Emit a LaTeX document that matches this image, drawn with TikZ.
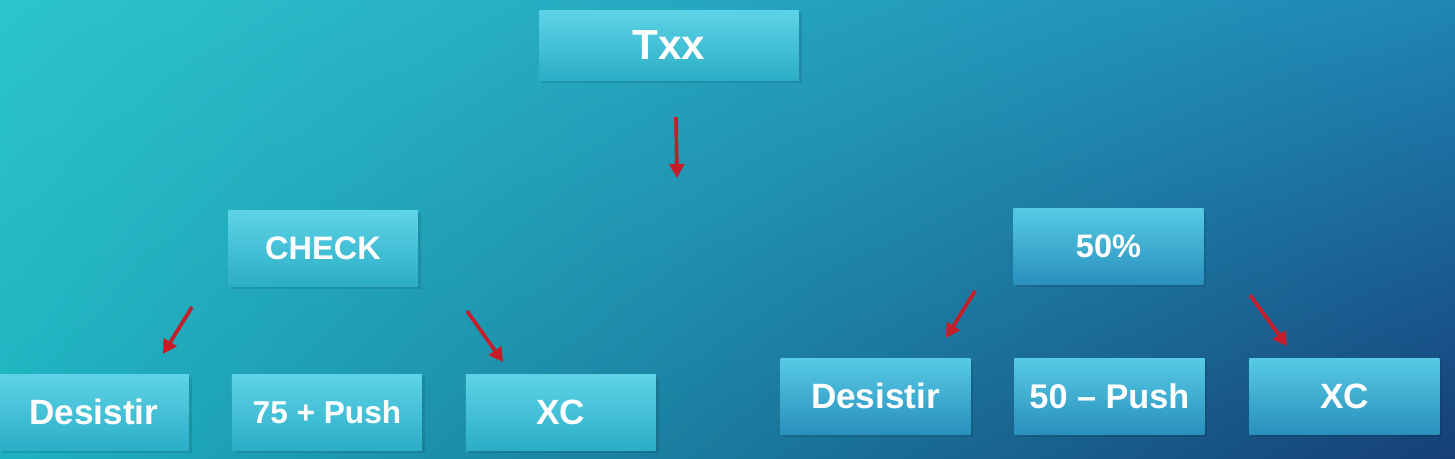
\documentclass[tikz,border=0pt]{standalone}
\usepackage{fontspec}
\setmainfont{Liberation Sans}
\usepackage{tikz}
\usetikzlibrary{positioning, arrows.meta, shadows, shadings}

\definecolor{bgTL}{HTML}{2CC5CC}
\definecolor{bgTR}{HTML}{1F86B4}
\definecolor{bgBL}{HTML}{1EB2C0}
\definecolor{bgBR}{HTML}{163F78}
\definecolor{tileTopL}{HTML}{5ED3E7}
\definecolor{tileBotL}{HTML}{2BAEC6}
\definecolor{tileTopR}{HTML}{57CAE5}
\definecolor{tileBotR}{HTML}{2990BC}
\definecolor{arrowRed}{HTML}{C41E2A}

\begin{document}
\begin{tikzpicture}[
  x=0.02cm, y=-0.02cm,
  tile/.style={minimum width=3.8cm, minimum height=1.52cm, inner sep=0pt,
    outer sep=0pt, text=white, font=\fontsize{20}{24}\selectfont\bfseries,
    drop shadow={shadow xshift=1.5pt, shadow yshift=-1.5pt,
      opacity=0.1, fill=black}},
  tileL/.style={tile, top color=tileTopL, bottom color=tileBotL},
  tileR/.style={tile, top color=tileTopR, bottom color=tileBotR},
  pick/.style={-{Triangle[length=8pt, width=8.5pt]}, line width=2.1pt,
    arrowRed},
]

% ── Background ───────────────────────────────────────────
\useasboundingbox (0,0) rectangle (1455,458);
\shade[upper left=bgTL, upper right=bgTR, lower left=bgBL,
  lower right=bgBR] (0,0) rectangle (1455,458);

% ── Top ──────────────────────────────────────────────────
\node[tileL, minimum width=5.2cm, minimum height=1.4cm,
  font=\fontsize{24}{28}\selectfont\bfseries] (txx) at (669,45) {Txx};

\coordinate (t0) at (676,117);
\coordinate (t1) at (677,178);
\draw[pick] (t0) -- (t1);

% ── Left branch: CHECK ───────────────────────────────────
\node[tileL, font=\fontsize{18.5}{22}\selectfont\bfseries]
  (check) at (323,248) {CHECK};

\node[tileL] (ldes) at (94,412) {Desistir};
\node[tileL, right=0.86cm of ldes,
  font=\fontsize{18}{22}\selectfont\bfseries] (lpush) {75 + Push};
\node[tileL, right=0.88cm of lpush] (lxc) {XC};

\coordinate (c0) at (192,307);
\coordinate (c1) at (163,354);
\coordinate (c2) at (467,311);
\coordinate (c3) at (503,362);
\draw[pick] (c0) -- (c1);
\draw[pick] (c2) -- (c3);

% ── Right branch: 50% ────────────────────────────────────
\node[tileR, font=\fontsize{18.5}{22}\selectfont\bfseries]
  (half) at (1108.5,246) {50\%};

\node[tileR] (rdes) at (875.5,396) {Desistir};
\node[tileR, right=0.88cm of rdes,
  font=\fontsize{19.5}{23}\selectfont\bfseries] (rpush) {50 – Push};
\node[tileR, right=0.9cm of rpush] (rxc) {XC};

\coordinate (h0) at (975,291);
\coordinate (h1) at (946,338);
\coordinate (h2) at (1250,295);
\coordinate (h3) at (1287,346);
\draw[pick] (h0) -- (h1);
\draw[pick] (h2) -- (h3);

\end{tikzpicture}
\end{document}
